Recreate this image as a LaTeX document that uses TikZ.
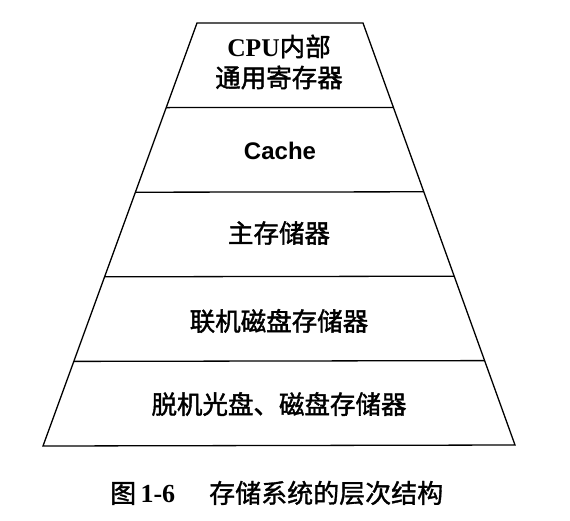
\documentclass[tikz,border=0pt]{standalone}
\usepackage{fontspec}
\usetikzlibrary{calc}
\setmainfont{Liberation Serif}
\setsansfont{Liberation Sans}
\newfontfamily\cjk[FakeBold=1.6]{Noto Sans CJK SC}
\newfontfamily\cjkcap[FakeBold=1.2]{Noto Sans CJK SC}
\begin{document}
\begin{tikzpicture}[x=1pt,y=-1pt,
  edge/.style={line width=1.3pt,line join=miter},
  layertext/.style={font=\fontsize{25.5}{31}\selectfont\cjk,align=center,inner sep=0pt},
  captiontext/.style={font=\fontsize{26}{30}\selectfont,anchor=west,inner sep=0pt}]
  \useasboundingbox (0,0) rectangle (570,520);
  % corners of the pyramid
  \coordinate (tl) at (197,23);
  \coordinate (tr) at (363,23);
  \coordinate (bl) at (43,446);
  \coordinate (br) at (515,445);
  \draw[edge] (tl) -- (tr) -- (br) -- (bl) -- cycle;
  % level boundaries
  \foreach \k in {1,2,3,4}{
    \coordinate (l\k) at ($(tl)!\k/5!(bl)$);
    \coordinate (r\k) at ($(tr)!\k/5!(br)$);
    \draw[edge] (l\k) -- (r\k);
  }
  % level labels
  \node[layertext] (cpu) at (279,62) {{\rmfamily\bfseries CPU}内部\\[0pt]通用寄存器};
  \node[layertext] (cache) at (280,151) {{\fontsize{24}{30}\selectfont\sffamily\bfseries Cache}};
  \node[layertext] (main) at (279,233) {主存储器};
  \node[layertext] (disk) at (279,321) {联机磁盘存储器};
  \node[layertext] (offline) at (279,404) {脱机光盘、磁盘存储器};
  % figure caption
  \node[captiontext] (cap) at (110,493) {{\cjkcap 图}\,\textbf{1-6}\hspace{34pt}{\cjkcap 存储系统的层次结构}};
\end{tikzpicture}
\end{document}
